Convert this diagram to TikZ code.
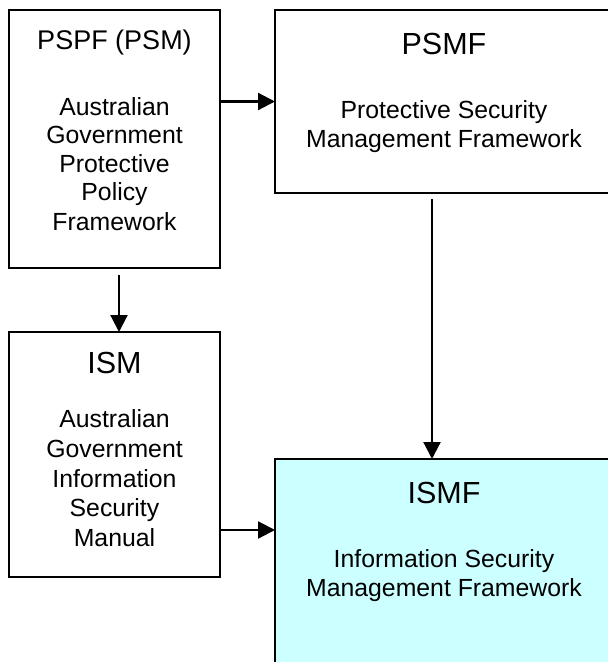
\documentclass[tikz,border=0pt]{standalone}
\usepackage{fontspec}
\setmainfont{Liberation Sans}
\usetikzlibrary{arrows.meta}
\definecolor{lightcyan}{HTML}{CCFFFF}
\tikzset{
  box/.style={draw=black, line width=2.2pt, rectangle, inner sep=0pt, outer sep=0pt, fill=white},
  title/.style={font=\fontsize{30.5}{30.5}\selectfont, anchor=base, inner sep=0pt},
  smalltitle/.style={font=\fontsize{27}{27}\selectfont, anchor=base, inner sep=0pt},
  body/.style={font=\fontsize{24.8}{24.8}\selectfont, anchor=base, inner sep=0pt},
  arr/.style={line width=2.2pt, -{Triangle[length=17pt,width=17pt]}}
}
\begin{document}
\begin{tikzpicture}[x=1pt,y=-1pt]
\useasboundingbox (0,0) rectangle (608,662);
\clip (0,0) rectangle (608,662);
% boxes
\node[box, minimum width=211pt, minimum height=258pt] (pspf) at (114.5,139) {};
\node[box, minimum width=211pt, minimum height=245pt] (ism) at (114.5,454.5) {};
\node[box, minimum width=338pt, minimum height=183pt] (psmf) at (444,101.5) {};
\node[box, fill=lightcyan, minimum width=338pt, minimum height=260pt] (ismf) at (444,589) {};
% texts
\node[smalltitle] (t1) at (114.5,49) {PSPF (PSM)};
\node[body] (t1a) at (114.5,115) {Australian};
\node[body] (t1b) at (114.5,143.5) {Government};
\node[body] (t1c) at (114.5,172) {Protective};
\node[body] (t1d) at (114.5,200.5) {Policy};
\node[body] (t1e) at (114.5,230) {Framework};
\node[title] (t2) at (444,54) {PSMF};
\node[body] (t2a) at (444,118) {Protective Security};
\node[body] (t2b) at (444,147) {Management Framework};
\node[title] (t3) at (114.5,373) {ISM};
\node[body] (t3a) at (114.5,427) {Australian};
\node[body] (t3b) at (114.5,457) {Government};
\node[body] (t3c) at (114.5,487) {Information};
\node[body] (t3d) at (114.5,516) {Security};
\node[body] (t3e) at (114.5,546) {Manual};
\node[title] (t4) at (444,503) {ISMF};
\node[body] (t4a) at (444,567) {Information Security};
\node[body] (t4b) at (444,596) {Management Framework};
% connectors
\draw[arr] (pspf.east |- psmf.west) -- (psmf.west);
\draw[arr, shorten <=7pt] ([xshift=4.5pt]pspf.south) -- ([xshift=4.5pt]ism.north);
\draw[arr, shorten <=6pt] ([xshift=-12pt]psmf.south) -- ([xshift=-12pt]ismf.north);
\coordinate (c4) at ([yshift=-75.5pt]ism.east);
\draw[arr] (c4) -- (c4 -| ismf.west);
\end{tikzpicture}
\end{document}
